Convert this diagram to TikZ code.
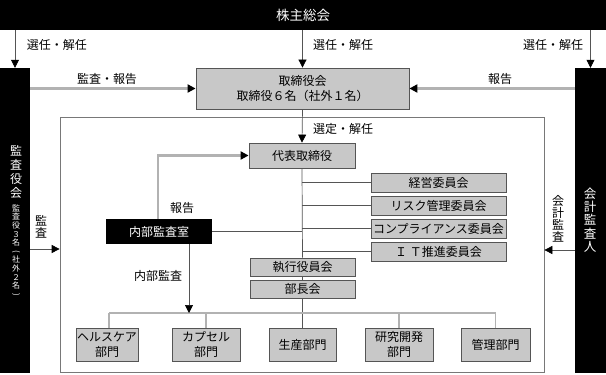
\documentclass[tikz,border=0pt]{standalone}
\usepackage{fontspec}
\setmainfont{Noto Sans CJK JP}
\usetikzlibrary{arrows.meta}
\definecolor{boxgray}{RGB}{200,200,200}
\definecolor{lgray}{RGB}{178,178,178}
\definecolor{dgray}{RGB}{85,85,85}
\definecolor{frgray}{RGB}{120,120,120}
\tikzset{
  blk/.style={fill=black, text=white, draw=none, inner sep=0pt},
  gbox/.style={fill=boxgray, draw=dgray, line width=0.8pt, inner sep=0pt, align=center, font=\fontsize{12}{15}\selectfont},
  lbl/.style={inner sep=0pt, font=\fontsize{12}{14}\selectfont},
  vlbl/.style={inner sep=0pt, align=center},
  tip/.style={-{Triangle[length=8pt,width=8pt,color=black]}},
  thinln/.style={draw=dgray, line width=0.7pt},
  thickln/.style={draw=lgray, line width=2.2pt},
  busln/.style={draw=lgray, line width=1.3pt},
}
\begin{document}
\begin{tikzpicture}[x=1pt,y=-1pt]
\useasboundingbox (0,0) rectangle (606,375);
% black bars
\node[blk, minimum width=606pt, minimum height=30pt, font=\fontsize{13.5}{15}\selectfont] (soukai) at (303,15) {株主総会};
\node[blk, minimum width=30pt, minimum height=305pt] (kansa) at (15,220.5) {};
\node[blk, minimum width=31pt, minimum height=305pt] (kaikei) at (590.5,220.5) {};
% big frame
\node[draw=frgray, line width=0.7pt, fill=white, minimum width=484pt, minimum height=255pt, inner sep=0pt] (big) at (302,244.5) {};
% boxes
\node[gbox, minimum width=213pt, minimum height=41pt] (tori) at (302.5,88.5) {取締役会\\取締役６名（社外１名）};
\node[gbox, minimum width=106pt, minimum height=25pt] (daihyo) at (302,155.5) {代表取締役};
\node[gbox, minimum width=135pt, minimum height=19pt] (c1) at (438.5,182.5) {経営委員会};
\node[gbox, minimum width=135pt, minimum height=19pt] (c2) at (438.5,205.5) {リスク管理委員会};
\node[gbox, minimum width=135pt, minimum height=19pt] (c3) at (438.5,228.5) {コンプライアンス委員会};
\node[gbox, minimum width=135pt, minimum height=19pt] (c4) at (438.5,251.5) {Ｉ Ｔ推進委員会};
\node[blk, minimum width=106pt, minimum height=25pt, font=\fontsize{12}{14}\selectfont] (naibu) at (159,231.5) {内部監査室};
\node[gbox, minimum width=105pt, minimum height=18pt] (shikko) at (302.5,267) {執行役員会};
\node[gbox, minimum width=105pt, minimum height=18pt] (bucho) at (302.5,289) {部長会};
\node[gbox, minimum width=62pt, minimum height=33pt] (hc) at (107,344.5) {ヘルスケア\\部門};
\node[gbox, minimum width=68pt, minimum height=33pt] (cap) at (206,344.5) {カプセル\\部門};
\node[gbox, minimum width=67pt, minimum height=33pt] (seisan) at (302.5,344.5) {生産部門};
\node[gbox, minimum width=68pt, minimum height=33pt] (ken) at (399,344.5) {研究開発\\部門};
\node[gbox, minimum width=69pt, minimum height=33pt] (kanri) at (495.5,344.5) {管理部門};
% vertical texts in black columns
\node[vlbl, text=white, font=\fontsize{12}{14}\selectfont] (kansaT) at (16,172) {監\\査\\役\\会};
\node[vlbl, text=white, font=\fontsize{8}{8.6}\selectfont] (kansaS) at (16,251) {監\\査\\役\\３\\名\\\rotatebox[origin=c]{-90}{(}\\社\\外\\２\\名\\\rotatebox[origin=c]{-90}{)}};
\node[vlbl, text=white, font=\fontsize{12.5}{13.4}\selectfont] (kaikeiT) at (590,220) {会\\計\\監\\査\\人};
% labels
\node[lbl] (l1) at (57,45) {選任・解任};
\node[lbl] (l2) at (343,45) {選任・解任};
\node[lbl] (l3) at (553,45) {選任・解任};
\node[lbl] (l4) at (107,79) {監査・報告};
\node[lbl] (l5) at (500,79) {報告};
\node[lbl] (l6) at (343,129) {選定・解任};
\node[lbl] (l7) at (182,208) {報告};
\node[lbl] (l8) at (158,276) {内部監査};
\node[vlbl, font=\fontsize{12}{11.5}\selectfont] (l9) at (41,227) {監\\査};
\node[vlbl, font=\fontsize{12}{12}\selectfont] (l10) at (558,219) {会\\計\\監\\査};
% connectors
\draw[thinln, tip] (soukai.south -| kansa) -- (kansa.north);
\draw[thinln, tip] (soukai.south -| tori) -- (tori.north);
\draw[thinln, tip] (soukai.south -| kaikei) -- (kaikei.north);
\draw[thickln, tip] (kansa.east |- tori) -- (tori.west);
\draw[thickln, tip] (kaikei.west |- tori) -- (tori.east);
\draw[thinln, tip] (tori.south) -- (daihyo.north);
\draw[thickln, tip] ([xshift=-1pt]naibu.north) |- (daihyo.west);
\draw[thinln] (daihyo.south) -- (shikko.north);
\foreach \c in {c1,c2,c3,c4} \draw[thinln] (daihyo.south |- \c.west) -- (\c.west);
\draw[thinln] (naibu.east) -- (naibu.east -| daihyo.south);
\draw[thinln] (shikko.south) -- (bucho.north);
\coordinate (bus) at (0,313);
\draw[thinln] (bucho.south) -- (seisan.north);
\draw[busln] ([xshift=2pt]hc.north |- bus) -- (kanri.north |- bus);
\draw[busln] ([xshift=2pt]hc.north |- bus) -- ([xshift=2pt]hc.north);
\foreach \b in {cap,ken,kanri} \draw[busln] (\b.north |- bus) -- (\b.north);
\draw[thinln, tip] ([xshift=30pt]naibu.south) -- ([xshift=30pt]naibu.south |- bus);
\coordinate (a1) at (0,249);
\coordinate (a2) at (0,250);
\draw[thinln, tip] (kansa.east |- a1) -- (big.west |- a1);
\draw[thinln, tip] (kaikei.west |- a2) -- (big.east |- a2);
\end{tikzpicture}
\end{document}
